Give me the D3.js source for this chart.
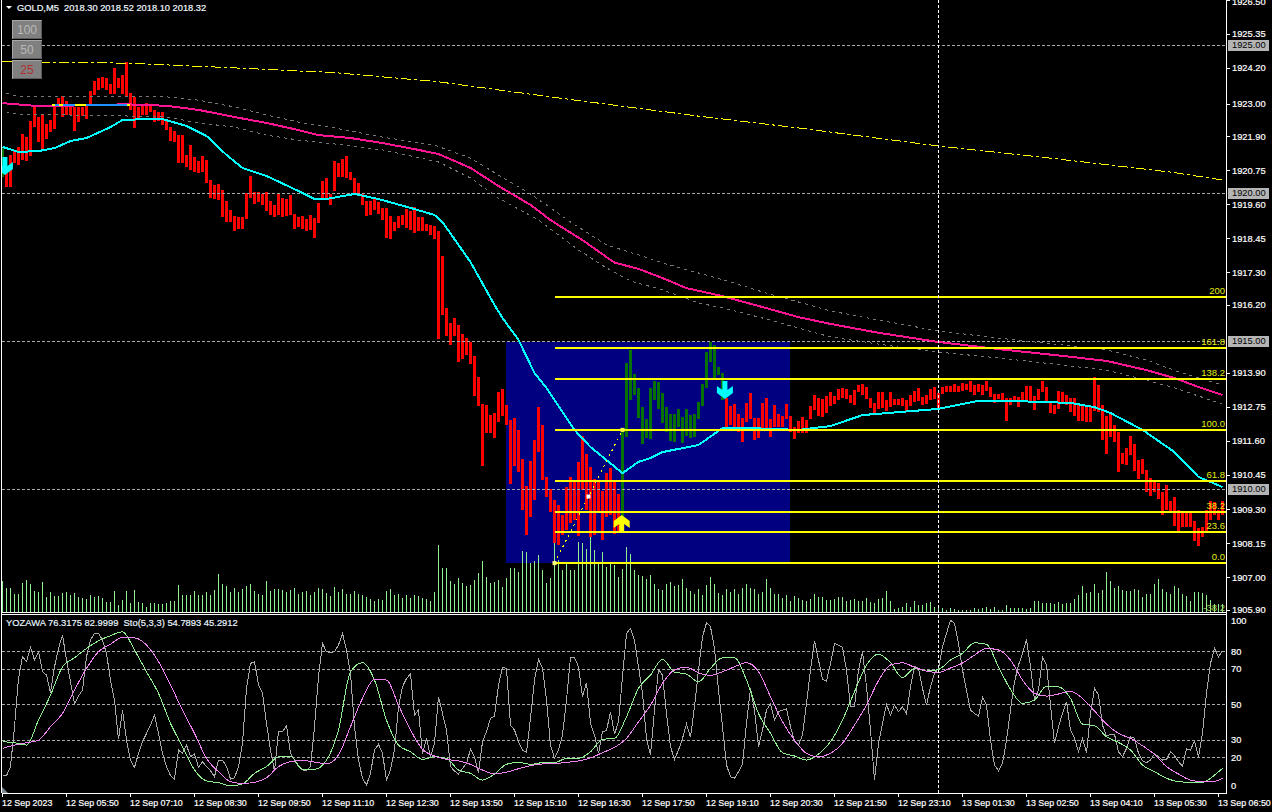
<!DOCTYPE html>
<html><head><meta charset="utf-8">
<script src="https://cdn.jsdelivr.net/npm/d3@7/dist/d3.min.js"></script>
<style>html,body{margin:0;padding:0;background:#000;overflow:hidden}svg{display:block}text{font-family:"Liberation Sans",Arial,sans-serif}</style>
</head><body><div id="c"></div>
<script>
const barHigh=[
1921.49,1920.76,1921.26,1921.43,1921.55,1921.97,1921.88,1922.41,1922.92,1922.56,
1922.62,1922.31,1922.45,1922.90,1923.20,1923.26,1923.09,1922.92,1922.90,1922.90,
1922.90,1922.92,1923.43,1923.76,1923.87,1923.89,1923.87,1923.68,1924.20,1923.87,
1923.97,1924.41,1923.35,1923.23,1922.90,1922.92,1923.01,1922.99,1922.78,1922.71,
1922.71,1922.45,1922.22,1922.07,1921.94,1921.94,1921.26,1921.60,1921.21,1921.06,
1921.23,1921.10,1920.42,1920.25,1920.28,1920.08,1919.71,1919.41,1919.20,1919.18,
1919.18,1919.97,1920.55,1920.01,1920.01,1919.95,1920.01,1919.71,1919.58,1919.98,
1919.81,1919.78,1919.91,1919.27,1919.17,1919.20,1919.10,1919.24,1919.14,1919.63,
1920.39,1920.49,1919.95,1921.06,1920.99,1921.13,1921.23,1920.69,1920.49,1920.32,
1919.95,1919.71,1919.71,1919.78,1919.68,1919.47,1919.47,1919.20,1919.01,1919.20,
1919.24,1919.44,1919.37,1919.51,1919.17,1919.17,1918.93,1918.90,1918.87,1918.70,
1917.85,1916.10,1915.59,1915.76,1915.52,1915.22,1915.08,1914.95,1914.48,1913.77,
1912.85,1912.82,1912.48,1912.55,1913.26,1913.36,1912.82,1912.31,1912.38,1911.98,
1911.00,1910.08,1910.93,1911.64,1912.75,1912.15,1910.39,1909.98,1909.61,1909.44,
1909.10,1910.05,1910.39,1910.29,1910.90,1911.77,1911.17,1910.73,1910.32,1910.25,
1909.92,1910.52,1910.69,1910.29,1909.81,1911.98,1914.24,1914.68,1913.87,1913.39,
1912.75,1912.35,1913.39,1913.63,1913.60,1913.23,1912.75,1912.52,1912.52,1912.69,
1912.42,1912.69,1912.48,1912.52,1912.92,1913.53,1914.61,1914.95,1914.85,1914.10,
1913.89,1913.06,1912.79,1912.85,1912.52,1912.38,1912.89,1913.23,1912.38,1912.38,
1912.89,1913.06,1912.35,1912.82,1912.52,1912.45,1912.85,1912.45,1912.08,1912.28,
1912.42,1912.31,1912.79,1913.16,1913.06,1913.02,1913.12,1913.26,1913.12,1913.36,
1913.41,1913.36,1913.16,1913.32,1913.49,1913.53,1913.43,1913.05,1912.89,1913.26,
1913.26,1912.99,1913.26,1913.02,1913.02,1913.05,1912.99,1913.16,1913.29,1913.39,
1913.09,1913.16,1913.36,1913.43,1913.22,1913.43,1913.46,1913.46,1913.53,1913.46,
1913.56,1913.53,1913.63,1913.49,1913.53,1913.49,1913.63,1913.43,1913.19,1913.19,
1913.22,1913.05,1913.05,1913.12,1913.09,1913.26,1913.46,1913.46,1913.12,1913.36,
1913.63,1913.43,1912.92,1912.82,1913.29,1913.26,1913.16,1913.05,1913.05,1912.89,
1912.85,1912.78,1912.78,1913.76,1913.49,1912.82,1912.45,1912.55,1912.16,1911.91,
1911.20,1911.36,1911.77,1911.50,1910.96,1910.99,1910.62,1910.35,1910.22,1910.18,
1909.88,1910.12,1909.57,1909.71,1909.27,1909.17,1909.17,1909.17,1908.90,1908.66,
1908.70,1909.27,1909.57,1909.54,1909.27,1909.57];
const barLow=[
1920.53,1920.17,1920.19,1920.98,1920.93,1921.10,1921.06,1921.24,1922.22,1921.71,
1921.47,1921.80,1922.05,1922.13,1922.90,1922.54,1922.62,1922.62,1922.07,1922.39,
1922.58,1922.50,1922.92,1923.29,1923.46,1923.52,1923.46,1923.32,1923.32,1923.52,
1923.32,1923.26,1922.78,1922.19,1922.47,1922.62,1922.62,1922.73,1922.39,1922.42,
1922.28,1922.11,1921.74,1921.71,1921.01,1921.01,1920.85,1920.76,1920.69,1920.67,
1920.69,1920.32,1919.82,1919.78,1919.74,1919.18,1918.99,1918.99,1918.71,1918.76,
1918.76,1919.10,1919.82,1919.61,1919.69,1919.58,1919.37,1919.24,1919.16,1919.24,
1919.16,1919.20,1919.24,1918.76,1918.84,1918.76,1918.70,1918.73,1918.47,1918.97,
1919.78,1919.74,1919.58,1920.05,1920.52,1920.52,1920.49,1920.42,1919.98,1919.91,
1919.58,1919.20,1919.24,1919.41,1919.29,1919.07,1918.46,1918.43,1918.70,1918.79,
1918.90,1918.80,1918.73,1918.62,1918.71,1918.70,1918.70,1918.56,1918.43,1915.04,
1915.86,1915.15,1914.85,1915.15,1914.27,1914.37,1914.51,1914.21,1913.12,1912.79,
1910.76,1911.86,1911.86,1911.71,1912.25,1912.45,1912.15,1910.15,1910.76,1910.56,
1909.27,1908.43,1909.04,1909.61,1911.23,1910.29,1909.71,1909.21,1908.16,1908.09,
1908.43,1908.60,1908.83,1908.94,1908.40,1909.95,1909.27,1908.36,1908.43,1909.21,
1908.26,1909.04,1909.10,1908.46,1908.53,1908.49,1911.74,1912.99,1913.16,1912.38,
1911.50,1911.71,1911.67,1912.99,1912.69,1912.21,1911.91,1911.60,1911.57,1912.08,
1911.54,1911.77,1911.71,1911.74,1912.35,1912.79,1913.39,1914.27,1913.67,1913.83,
1912.99,1912.04,1912.15,1912.01,1911.91,1911.57,1912.25,1912.35,1911.64,1911.71,
1912.01,1912.01,1911.74,1912.08,1912.08,1912.08,1912.35,1911.91,1911.67,1911.87,
1911.87,1911.87,1912.35,1912.65,1912.45,1912.42,1912.55,1912.78,1912.85,1912.99,
1913.07,1913.02,1912.89,1912.82,1913.26,1913.16,1913.02,1912.72,1912.51,1912.68,
1912.72,1912.61,1912.75,1912.82,1912.82,1912.78,1912.61,1912.78,1912.92,1912.95,
1912.82,1912.85,1912.99,1913.02,1912.72,1913.19,1913.26,1913.26,1913.26,1913.26,
1913.29,1913.32,1913.26,1913.16,1913.26,1913.16,1913.29,1913.09,1912.89,1913.02,
1912.99,1912.28,1912.82,1912.99,1912.75,1912.95,1912.99,1912.92,1912.65,1912.99,
1913.26,1912.92,1912.55,1912.51,1912.68,1912.92,1912.82,1912.58,1912.45,1912.28,
1912.28,1912.24,1912.24,1912.61,1912.58,1911.64,1911.16,1911.74,1911.57,1910.55,
1910.82,1910.79,1911.13,1910.59,1910.32,1910.49,1909.88,1909.74,1909.88,1909.64,
1909.10,1909.27,1909.24,1908.73,1908.56,1908.70,1908.70,1908.70,1908.22,1908.05,
1908.36,1908.56,1908.93,1909.10,1908.93,1909.10];
const greenBars=[0,155,156,157,158,159,160,161,162,163,164,165,166,167,168,169,170,171,172,173,174,175,176,177,178,179,180];
const volume=[
31,24,24,18,18,29,32,28,21,20,30,15,20,16,16,19,20,17,19,15,
14,13,17,15,16,14,10,10,21,7,12,21,9,22,10,9,5,9,9,8,
8,9,11,11,27,17,17,17,21,17,17,20,17,22,38,28,26,20,24,20,
23,26,28,21,18,17,31,21,23,23,22,20,22,24,18,20,21,17,20,24,
23,19,16,25,20,23,18,18,21,18,17,15,13,11,13,12,21,23,17,18,
14,17,14,17,16,14,13,11,20,67,44,44,31,28,34,29,26,27,32,39,
51,35,29,30,32,25,34,44,44,40,61,60,49,51,57,42,29,34,73,52,
42,48,42,42,70,69,63,76,62,49,60,45,50,47,35,43,65,58,42,37,
36,33,37,28,23,22,28,30,26,27,33,24,21,18,23,17,27,35,28,19,
17,23,20,23,18,24,28,24,23,18,20,33,24,18,18,14,17,11,16,14,
12,11,13,18,15,15,12,12,13,15,15,11,12,13,11,11,14,10,9,13,
14,21,11,3,4,5,9,5,11,7,7,9,10,5,5,4,2,4,3,2,
2,2,2,4,3,4,5,3,5,2,2,7,4,4,4,4,3,4,11,11,
9,9,9,8,10,8,9,9,13,17,26,19,20,28,19,22,40,31,24,26,
22,21,21,23,22,15,18,18,28,33,23,20,18,26,24,18,16,11,20,20,
19,17,12,8,8,8];
const pinkBars=[0,8,12,31,41,49,58,66,74,79,87,95,104,109,117,124,132,137,145,153,159,165,171,180,190,199,207,219,234,249,265,276,286,293,299,305];
const pinkMA=[1923.02,1922.93,1922.92,1922.98,1922.93,1922.79,1922.55,1922.35,1922.11,1921.94,1921.84,1921.67,1921.44,1921.30,1920.83,1920.22,1919.58,1919.07,1918.39,1917.63,1917.42,1917.11,1916.77,1916.50,1916.13,1915.79,1915.56,1915.26,1914.95,1914.71,1914.48,1914.31,1914.00,1913.73,1913.43,1913.16];
const upperBars=[1,4,20,41,49,58,66,74,83,95,108,117,124,132,137,142,151,159,165,174,182,190,199,207,219,234,249,265,276,286,294,305];
const upperBand=[1923.36,1923.23,1923.26,1923.23,1923.12,1922.89,1922.62,1922.38,1922.18,1921.87,1921.60,1921.16,1920.59,1919.95,1919.48,1919.00,1918.23,1917.89,1917.62,1917.28,1916.98,1916.64,1916.30,1916.00,1915.69,1915.32,1915.08,1914.85,1914.68,1914.34,1913.94,1913.50];
const lowerBars=[1,4,16,33,41,49,58,66,74,83,95,109,117,124,134,138,144,151,157,165,174,180,190,199,207,224,234,249,265,276,284,293,305];
const lowerBand=[1922.72,1922.65,1922.62,1922.58,1922.55,1922.35,1922.21,1921.94,1921.77,1921.64,1921.44,1921.03,1920.49,1919.81,1919.07,1918.67,1918.06,1917.45,1917.01,1916.71,1916.27,1916.10,1915.76,1915.42,1915.12,1914.78,1914.61,1914.41,1914.17,1914.00,1913.73,1913.40,1912.85];
const slowBars=[0,31,58,83,109,137,174,199,234,262,292,305];
const slowMA=[1924.42,1924.37,1924.21,1924.05,1923.74,1923.23,1922.58,1922.18,1921.57,1921.16,1920.69,1920.42];
const cyanBars=[0,4,9,13,17,21,27,30,36,40,46,51,56,60,66,74,78,81,88,94,102,108,110,117,123,125,129,133,136,143,147,155,159,162,165,174,180,187,199,207,215,224,234,244,251,261,267,273,277,285,293,299,305];
const cyanMA=[1921.54,1921.37,1921.40,1921.50,1921.74,1921.84,1922.21,1922.45,1922.48,1922.48,1922.25,1921.91,1921.27,1920.83,1920.56,1920.05,1919.78,1919.78,1919.95,1919.78,1919.48,1919.24,1919.00,1917.65,1916.20,1915.76,1915.02,1913.90,1913.40,1911.98,1911.40,1910.52,1910.90,1911.03,1911.23,1911.47,1912.04,1912.04,1911.98,1912.11,1912.48,1912.58,1912.69,1912.96,1912.96,1912.92,1912.89,1912.75,1912.55,1911.98,1911.23,1910.39,1910.05];
const overlayStart=[12.4,13.1,14.1,15.1,18.1,20.9,31.1];
const overlayEnd=[13.1,14.1,15.1,18.1,20.9,31.1,31.9];
const overlayColor=["#ffff00","#1e90ff","#ffff00","#1e90ff","#ffff00","#1e90ff","#ffff00"];
const overlayPrice=1922.96;
const fibPct=[0,23.6,38.2,61.8,100,138.2,161.8,200];
const fibLow=1907.48, fibHigh=1911.98, fibStartBar=138, fibEndBar=155;
const gridPrices=[1925,1920,1915,1910];
const priceTicks=[1926.5,1925.35,1924.2,1923,1921.9,1920.75,1919.6,1918.45,1917.3,1916.2,1913.9,1912.75,1911.6,1910.45,1909.3,1908.15,1907,1905.9];
const yozawa=[
9.6,9.6,14.7,37.3,64.6,76.9,74.1,82.2,75,79.7,
68.4,66.5,56.5,71.2,81.6,89.2,75,62.7,50.1,54.6,
58,76.9,86.3,90.1,90.1,86.3,78.8,63.7,52.4,30.1,
46.7,29.7,18.4,14.3,22.2,28.8,33.5,38.2,43.9,33.5,
22.2,14.7,9.6,7.7,24.1,22.2,26.9,20.3,21.8,14.3,
17.5,14.7,12.4,9,18.4,18.4,14.7,7.7,8.4,14.7,
27.9,59,73.1,74.1,60.9,56.2,39.2,24.1,12.2,34.5,
34.5,37.9,22.2,18.4,14.7,12.8,12.4,14.7,37.3,65.6,
84.4,79.7,79.3,79.7,83.5,90.1,80.7,67.5,37.3,18.4,
8.1,4.3,10.9,24.1,27.3,22.2,7.1,12.8,24.1,48.6,
59.9,64.6,67.1,43.9,46.7,21.8,30.7,20.3,
27.9,54.3,44.8,35.4,14.7,12.2,10.5,13.7,16.5,24.5,20.3,10.9,
28.8,34.5,42,43.3,60.9,70.9,70.3,38.2,35.4,28.8,
24.1,22.8,42,63.7,75.4,70.3,52.4,26.9,19.4,24.1,
32.6,52.4,76.5,76.5,71.2,54.3,62.2,39.2,32.6,22.2,
34.5,35,45.8,33.1,40.1,65.6,90.1,92.9,86.3,71.2,
56.2,30.7,21.3,46.7,69.7,66.5,44.8,26,18.8,24.1,
30.7,38.8,31.3,48.6,69.4,88.2,96.1,93.9,81.6,58,
37.3,15.6,9,8.1,11.8,16.2,39.2,59,46.7,26,
35.4,46.7,50.1,41,45.8,46.7,47.3,37.3,28.8,26.9,
32.6,50.5,69.4,85.9,75,64.1,63.1,73.1,84.4,83.5,
82.2,69.4,48.6,48.6,69.4,79.7,59.9,35.4,7.1,27.9,
39.2,49.9,43.9,49.5,45.8,48.6,44.5,59.9,71.6,70.3,
59,49.5,59.9,67.5,70.3,82.6,90.1,97.6,95.8,84.4,
69.4,58,46.7,44.8,43.3,53.9,49.5,29.7,15.6,12.4,
16.5,29.7,46.7,62.7,72.2,78.8,86.7,71.2,52.4,58,
76.5,72.2,49.5,27.9,37.3,44.8,51.4,35.4,30.7,23.1,
30.7,22.6,44.8,59,55.2,38.2,32,33,33,23.1,
20.3,25,31.6,30.7,22.2,18,16.9,18.4,21.8,20.3,
18.4,18.8,23.1,20.9,17.5,15,24.7,24.1,29.2,19.9,
33.5,56.2,73.1,81.6,76.9,80.3];
const stoBars=[0,3,6,9,12,15,18,21,24,27,30,33,36,39,42,45,48,51,54,57,60,63,66,69,72,75,78,81,84,87,90,93,96,99,102,105,
108,111,114,117,120,123,126,129,132,135,138,141,144,147,150,153,156,159,162,165,168,171,174,177,180,183,186,189,192,195,198,201,204,207,210,213,
216,219,222,225,228,231,234,237,240,243,246,249,252,255,258,261,264,267,270,273,276,279,282,285,288,291,294,297,300,303,305];
const stoMain=[28.8,28.2,26.9,41,55.2,71.2,76.3,81.6,85.9,88.8,91,80.7,68.4,56.2,39.2,26,12.8,6.6,5.6,3.9,4.9,10.9,14.7,20.3,20.7,13.2,13.2,18.4,35.4,68.4,73.5,63.7,41,26.9,23.1,18.8,
20.3,19.4,12.8,10.9,7.1,10.5,16,17.1,16,16.9,16.9,19.4,19.4,23.1,30.1,30.7,42.9,59,66.5,75.4,68.2,67.1,62.7,70.3,76.3,76.3,63.7,44.8,33.5,22.6,20.7,18.4,21.8,28.8,41,57.1,
72.2,78.4,73.5,65,70.3,68.8,69.7,75,78.8,84.8,83.9,71.2,58.4,50.5,52.4,60.3,59.9,53.3,38.8,37.9,31.6,28.4,24.1,15.6,11.8,8.1,6.2,5.8,5.8,9.9,13.7];
const stoSignal=[25,26.9,28.2,29.7,37.3,44.8,58,70.3,79.7,84,87.8,87.6,83.5,74.1,60.9,46.7,33.5,19.4,11.8,6.2,5.2,5.8,8.4,14.7,17.5,18.2,17.3,16.2,21.3,37.3,53.3,64.1,63.7,49.5,35.4,24.5,
20.7,18.8,17.9,16,12.8,10.5,11.6,13.5,15.2,16.2,16.4,17.1,17.9,19.6,22.6,25.6,30.7,40.1,49.5,61.8,69.4,70.9,67.8,66.3,68.4,71.2,73.5,68.4,54.3,40.1,29.7,22.2,20.3,22.2,27.9,38.2,
49.5,63.3,72.2,73.5,70.9,68.8,68,70.5,73.3,77.8,81.6,80.7,75,63.7,56.2,54.6,55.8,57.3,53.3,46.2,38.8,33.5,30.7,26.5,21.6,14.7,10.5,7.1,6.2,6.4,8];
const stoLevels=[80,70,50,30,20];
const stoTicks=[100,80,70,50,30,20,0];
const timeBars=[0,16,32,48,64,80,96,112,128,144,160,176,192,208,224,240,256,272,288,304];
const timeLabels=["12 Sep 2023","12 Sep 05:50","12 Sep 07:10","12 Sep 08:30","12 Sep 09:50","12 Sep 11:10","12 Sep 12:30","12 Sep 13:50","12 Sep 15:10","12 Sep 16:30","12 Sep 17:50","12 Sep 19:10","12 Sep 20:30","12 Sep 21:50","12 Sep 23:10","13 Sep 01:30","13 Sep 02:50","13 Sep 04:10","13 Sep 05:30","13 Sep 06:50"];
const arrowBars=[0.6,180.6,154.8], arrowPrices=[1921.20,1913.63,1908.50], arrowDirs=[-1,-1,1], arrowColors=["#00ffff","#00ffff","#ffff00"];
const crossBar=234;
const boxBars=[125.8,196.9], boxPrices=[1914.95,1907.48];

const W=1272,H=812;
const svg=d3.select("#c").append("svg").attr("width",W).attr("height",H);
svg.append("rect").attr("width",W).attr("height",H).attr("fill","#000");
const x=d3.scaleLinear().domain([0,305]).range([2.5,1222.5]);
const y=d3.scaleLinear().domain([1915,1910]).range([340.5,488.5]);
const yS=d3.scaleLinear().domain([0,100]).range([792.6,615.9]);
const yV=d3.scaleLinear().domain([0,100]).range([612,512]);
svg.append("defs").append("clipPath").attr("id","pl").append("rect").attr("x",2).attr("y",0).attr("width",1224).attr("height",612);
const main=svg.append("g").attr("clip-path","url(#pl)");
main.append("rect").attr("x",x(boxBars[0])).attr("y",y(boxPrices[0])).attr("width",x(boxBars[1])-x(boxBars[0])).attr("height",y(boxPrices[1])-y(boxPrices[0])).attr("fill","#000080").attr("shape-rendering","crispEdges");
main.append("g").selectAll("rect").data(volume).join("rect").attr("x",(d,i)=>x(i)-0.5).attr("width",1).attr("y",d=>yV(d)).attr("height",d=>yV(0)-yV(d)).attr("fill","#90ee90").attr("shape-rendering","crispEdges");
const greenSet=new Set(greenBars);
main.append("g").selectAll("rect").data(barHigh).join("rect").attr("x",(d,i)=>x(i)-1.5).attr("width",3).attr("y",d=>y(d)).attr("height",(d,i)=>y(barLow[i])-y(d)).attr("fill",(d,i)=>greenSet.has(i)?"#067206":"#ff0000").attr("shape-rendering","crispEdges");
main.append("g").selectAll("line").data(gridPrices).join("line").attr("x1",2).attr("x2",1226).attr("y1",d=>Math.round(y(d))+.5).attr("y2",d=>Math.round(y(d))+.5).attr("stroke","#a8a8a8").attr("stroke-dasharray","3,2").attr("shape-rendering","crispEdges");
const ln=(bars,sc)=>d3.line().x((d,i)=>x(bars[i])).y(d=>sc(d));
const path=(g,bars,vals,sc,col,w,dash,curve)=>g.append("path").attr("d",ln(bars,sc).curve(curve||d3.curveLinear)(vals)).attr("fill","none").attr("stroke",col).attr("stroke-width",w).attr("stroke-dasharray",dash||null).attr("shape-rendering","crispEdges");
path(main,upperBars,upperBand,y,"#787878",1,"3,4");
path(main,lowerBars,lowerBand,y,"#787878",1,"3,4");
path(main,slowBars,slowMA,y,"#ffff00",1,"10,3,3,3");
path(main,pinkBars,pinkMA,y,"#ff1493",2);
main.append("g").selectAll("line").data(overlayStart).join("line").attr("x1",d=>x(d)).attr("x2",(d,i)=>x(overlayEnd[i])).attr("y1",y(overlayPrice)).attr("y2",y(overlayPrice)).attr("stroke",(d,i)=>overlayColor[i]).attr("stroke-width",2).attr("shape-rendering","crispEdges");
path(main,cyanBars,cyanMA,y,"#00ffff",2);
const fibY=p=>y(fibLow+(fibHigh-fibLow)*p/100);
main.append("g").selectAll("line").data(fibPct).join("line").attr("x1",x(fibStartBar)).attr("x2",1226).attr("y1",d=>Math.round(fibY(d))).attr("y2",d=>Math.round(fibY(d))).attr("stroke","#ffff00").attr("stroke-width",2).attr("shape-rendering","crispEdges");
main.append("line").attr("x1",x(fibStartBar)).attr("y1",y(fibLow)).attr("x2",x(fibEndBar)).attr("y2",y(fibHigh)).attr("stroke","#ffff00").attr("stroke-dasharray","2,4").attr("shape-rendering","crispEdges");
const mk=[[fibStartBar,fibLow,"#ffff80"],[fibEndBar,fibHigh,"#ffff40"],[(fibStartBar+fibEndBar)/2,(fibLow+fibHigh)/2,"#ffffff"]];
main.append("g").selectAll("rect").data(mk).join("rect").attr("x",d=>x(d[0])-2).attr("y",d=>y(d[1])-2).attr("width",4).attr("height",4).attr("fill",d=>d[2]);
const arrowPts=[[-2.5,0],[2.5,0],[2.5,-9],[8,-5],[8,-12],[0,-18],[-8,-12],[-8,-5],[-2.5,-9]];
main.append("g").selectAll("polygon").data(arrowBars).join("polygon").attr("points",(d,i)=>arrowPts.map(p=>[x(d)+p[0],y(arrowPrices[i])+p[1]*arrowDirs[i]].join(",")).join(" ")).attr("fill",(d,i)=>arrowColors[i]);
const fibLabels=fibPct.map(String).map(s=>s==="0"?"0.0":s==="100"?"100.0":s);
svg.append("g").selectAll("text").data(fibPct).join("text").attr("x",1225).attr("y",d=>Math.round(fibY(d))-3).attr("text-anchor","end").attr("font-size",9.5).attr("fill","#e4ee10").text((d,i)=>fibLabels[i]);
svg.append("text").attr("x",1225).attr("y",611).attr("text-anchor","end").attr("font-size",9.5).attr("fill","#a8d850").text("-38.2");
const ax=svg.append("g").attr("stroke","#ffffff").attr("shape-rendering","crispEdges");
ax.append("line").attr("x1",1.5).attr("x2",1.5).attr("y1",0).attr("y2",793);
ax.append("line").attr("x1",1226.5).attr("x2",1226.5).attr("y1",0).attr("y2",793);
ax.append("line").attr("x1",1.5).attr("x2",1226.5).attr("y1",612.5).attr("y2",612.5);
ax.append("line").attr("x1",1.5).attr("x2",1226.5).attr("y1",614.5).attr("y2",614.5);
ax.append("line").attr("x1",1.5).attr("x2",1226.5).attr("y1",793.5).attr("y2",793.5);
const lab=s=>s.attr("stroke-width",.2);
svg.append("g").selectAll("line").data(priceTicks).join("line").attr("x1",1227).attr("x2",1230).attr("y1",d=>Math.round(y(d))+.5).attr("y2",d=>Math.round(y(d))+.5).attr("stroke","#fff").attr("shape-rendering","crispEdges");
svg.append("g").selectAll("text").data(priceTicks).join("text").attr("x",1232).attr("y",d=>Math.max(y(d),2)+3.3).attr("font-size",9.3).attr("fill","#fff").attr("stroke","#fff").call(lab).text(d=>d.toFixed(2));
const tags=svg.append("g").selectAll("g").data(gridPrices).join("g");
tags.append("rect").attr("x",1228).attr("width",41).attr("y",d=>Math.round(y(d))-5.5).attr("height",11).attr("fill","#b4b4b4").attr("shape-rendering","crispEdges");
tags.append("text").attr("x",1232).attr("y",d=>y(d)+3.3).attr("font-size",9.3).attr("fill","#000").text(d=>d.toFixed(2));
const sub=svg.append("g");
sub.append("g").selectAll("line").data(stoLevels).join("line").attr("x1",2).attr("x2",1226).attr("y1",d=>Math.round(yS(d))+.5).attr("y2",d=>Math.round(yS(d))+.5).attr("stroke","#a8a8a8").attr("stroke-dasharray","3,2").attr("shape-rendering","crispEdges");
const allBars=yozawa.map((d,i)=>i);
path(sub,allBars,yozawa,yS,"#a9a9a9",1);
path(sub,stoBars,stoMain,yS,"#90ee90",1,null,d3.curveMonotoneX);
path(sub,stoBars,stoSignal,yS,"#ee82ee",1,null,d3.curveMonotoneX);
svg.append("polygon").attr("points","2,787 8,793 2,793").attr("fill","#808890");
svg.append("g").selectAll("text").data(stoTicks).join("text").attr("x",1231).attr("y",d=>(d===100?621:d===0?786:yS(d))+3.3).attr("font-size",9.3).attr("fill","#fff").attr("stroke","#fff").call(lab).text(d=>d);
svg.append("g").selectAll("line").data(timeBars).join("line").attr("x1",d=>x(d)).attr("x2",d=>x(d)).attr("y1",793).attr("y2",797).attr("stroke","#fff").attr("shape-rendering","crispEdges");
svg.append("g").selectAll("text").data(timeLabels).join("text").attr("x",(d,i)=>x(timeBars[i])-.5).attr("y",806).attr("font-size",8.9).attr("fill","#fff").attr("stroke","#fff").call(lab).text(d=>d);
svg.append("line").attr("x1",x(crossBar)).attr("x2",x(crossBar)).attr("y1",0).attr("y2",793).attr("stroke","#fff").attr("stroke-dasharray","3,2").attr("shape-rendering","crispEdges");
svg.append("polygon").attr("points","6,6 12,6 9,9").attr("fill","#fff");
svg.append("text").attr("x",17).attr("y",11).attr("font-size",9.3).attr("fill","#f0f8ff").attr("stroke","#f0f8ff").call(lab).style("white-space","pre").text("GOLD,M5  2018.30 2018.52 2018.10 2018.32");
svg.append("text").attr("x",6).attr("y",626).attr("font-size",9.4).attr("fill","#e8f4ff").attr("stroke","#e8f4ff").call(lab).style("white-space","pre").text("YOZAWA 76.3175 82.9999  Sto(5,3,3) 54.7893 45.2912");
const btnLabels=["100","50","25"], btnColors=["#b8b8b8","#b8b8b8","#b03030"];
const btn=svg.append("g").selectAll("g").data(btnLabels).join("g").attr("transform",(d,i)=>`translate(12,${20+i*20})`);
btn.append("rect").attr("width",30).attr("height",19).attr("fill","#808080");
btn.append("path").attr("d","M0.5,18.5V0.5H29.5").attr("fill","none").attr("stroke","#a8a8a8");
btn.append("path").attr("d","M1,18.5H29.5V1").attr("fill","none").attr("stroke","#5a5a5a");
btn.append("text").attr("x",15).attr("y",14).attr("text-anchor","middle").attr("font-size",12).attr("fill",(d,i)=>btnColors[i]).text(d=>d);
</script></body></html>
